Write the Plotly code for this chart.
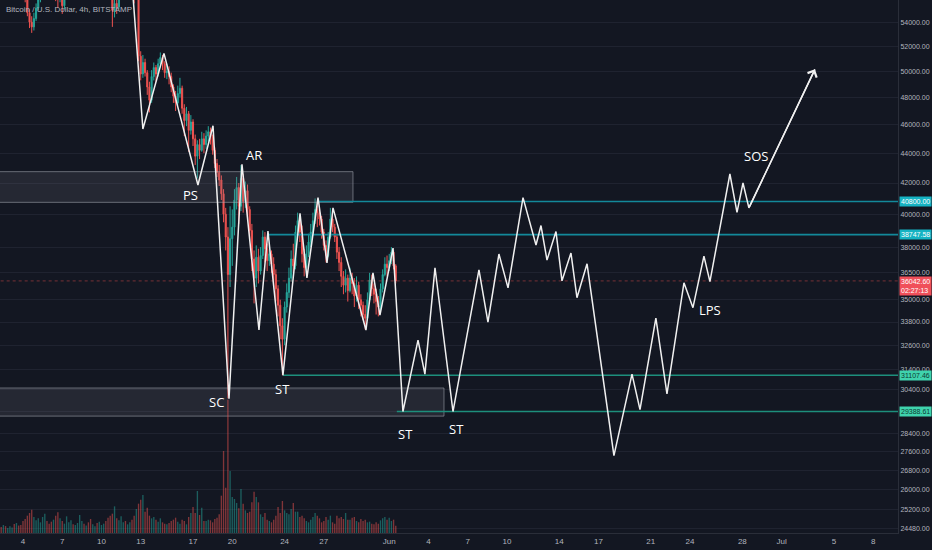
import numpy as np
import pandas as pd
import plotly.graph_objects as go

# ---------------- data ----------------
candle_start = "2021-05-02 08:00"
first_open = 57000

close = [
    56900, 57300, 56600, 57100,
    57600, 58200, 57800, 58600, 58300, 57900,
    57200, 56000, 54800, 54000, 53600, 54300,
    55200, 55900, 56800, 57300, 57500, 57400,
    57000, 56600, 57200, 56400, 56000, 56500,
    55400, 56100, 57000, 57300, 57700, 57400,
    58000, 58400, 58800, 59000, 58600, 58900,
    58300, 57500, 57900, 58400, 58200, 58200,
    58900, 59300, 58700, 57600, 56200, 55000,
    55600, 55300, 56200, 56600, 56900, 56600,
    57000, 57400, 56800, 56200, 56300, 51200,
    49800, 50700, 49900, 48800, 47800, 49600,
    50300, 49800, 50600, 51100, 50600, 49900,
    50000, 49600, 48800, 48100, 47600, 48300,
    48700, 47200, 46300, 46800, 45600, 46200,
    45000, 43800, 44600, 44200, 45000, 44600,
    45200, 45500, 45100, 44200, 43300, 42700,
    42200, 41300, 40000, 38600, 36400, 38500,
    39200, 40900, 41700, 40500, 42300, 40800,
    41500, 40300, 39000, 37300, 36200, 37400,
    36600, 37500, 38600, 37900, 37200, 37600,
    37000, 36400, 35600, 34700, 33600, 32900,
    34600, 35400, 36200, 37300, 36900, 38900,
    39600, 38900, 37600, 36800, 37600, 38300,
    38900, 39600, 40300, 40100, 39700, 38900,
    38100, 37500, 38600, 39700, 39200, 38600,
    37700, 37100, 36300, 35800, 36200, 35500,
    36200, 35900, 35200, 35800, 35000, 34700,
    34200, 34000, 35000, 36100, 35600, 35300,
    34900, 34600, 35600, 36400, 37000, 36800,
    37200, 37700, 36900, 36042.6,
]
high = [
    57500, 57900, 57500, 57600,
    57900, 58700, 58600, 58900, 58800, 58400,
    58100, 57400, 56200, 55100, 54500, 54800,
    55600, 56300, 57200, 57800, 57900, 57800,
    57700, 57300, 57700, 57400, 56600, 56900,
    56700, 56400, 57400, 57800, 58300, 57900,
    58300, 58800, 59300, 59500, 59200, 59300,
    59000, 58400, 58300, 58700, 58800, 58500,
    59200, 59700, 59500, 58800, 57800, 56400,
    56000, 56100, 56400, 57200, 57500, 57100,
    57300, 57900, 57600, 57000, 56900, 56500,
    51600, 51300, 51000, 50100, 49200, 50100,
    50700, 50500, 51000, 51500, 51300, 50800,
    50600, 50400, 49900, 49000, 48500, 48900,
    49500, 48900, 47500, 47300, 47000, 46700,
    46400, 45300, 44900, 45000, 45500, 45400,
    45600, 45900, 45800, 45300, 44400, 43600,
    43200, 42500, 41600, 40400, 39200, 40500,
    40300, 41600, 42400, 42000, 43200, 42600,
    42100, 41900, 40500, 39400, 37800, 38100,
    37900, 38000, 39000, 38900, 38200, 38100,
    37800, 37400, 36700, 35800, 35000, 34000,
    34900, 35900, 36800, 37800, 38200, 39300,
    40100, 39900, 39300, 37900, 38100, 38800,
    39400, 40100, 41000, 40700, 40400, 39900,
    39100, 38400, 38900, 40400, 40000, 39400,
    38800, 38000, 37400, 36600, 36700, 36400,
    36800, 36500, 36200, 36300, 36000, 35300,
    34900, 34700, 35400, 36500, 36400, 35900,
    35600, 35200, 35900, 36700, 37400, 37500,
    37600, 38000, 37800, 37000,
]
low = [
    56300, 56700, 56100, 56400,
    56800, 57400, 57300, 57600, 57900, 57300,
    56900, 55700, 54500, 53500, 53100, 53300,
    54100, 55000, 55700, 56600, 56900, 56800,
    56500, 56000, 56300, 55800, 55200, 55700,
    54700, 55100, 55900, 56700, 57100, 56900,
    57200, 57800, 58200, 58500, 58100, 58300,
    57900, 56400, 57100, 57700, 57800, 57700,
    58000, 58600, 58300, 57300, 55900, 53600,
    54400, 54700, 55100, 55900, 56300, 56100,
    56400, 56800, 56300, 55600, 55900, 50800,
    49300, 49500, 49600, 48200, 46900, 47600,
    49300, 49200, 49600, 50300, 50100, 49500,
    49400, 49000, 48400, 47600, 47000, 47400,
    48000, 46800, 45200, 45900, 44100, 45300,
    44500, 43200, 42300, 43600, 44100, 44000,
    44300, 44800, 44600, 43900, 43000, 42400,
    41800, 40900, 39500, 37800, 30000, 35700,
    36900, 38700, 40300, 39400, 40200, 40100,
    40400, 39600, 38400, 36600, 34800, 35700,
    35900, 36400, 37300, 37100, 36600, 36900,
    36500, 35700, 34900, 34100, 32900, 31100,
    32600, 34300, 35100, 36000, 36500, 36700,
    38700, 38300, 37100, 36300, 36500, 37400,
    38000, 38700, 39400, 39200, 39300, 38500,
    37800, 37100, 37400, 38500, 38900, 38300,
    37300, 36600, 35700, 35300, 35400, 34900,
    35400, 35300, 34600, 34900, 34500, 34100,
    33900, 33400, 33900, 34900, 35200, 34800,
    34200, 34100, 34400, 35400, 36300, 36300,
    36600, 37000, 36700, 35900,
]
volume = [
    450, 600, 520, 380,
    500, 420, 680, 750, 560, 600,
    900, 1050, 1300, 1500, 1750, 1200,
    950, 1100, 800, 1200, 1450, 900,
    700, 850, 1000, 1300, 1550, 1100,
    900, 700, 1250, 800, 950, 650,
    600, 750, 1350, 900, 700, 560,
    800, 1050, 650, 500, 750, 850,
    600, 700, 900, 1150, 1300, 1450,
    2000, 1100, 950, 1250, 800, 900,
    650, 800, 1000, 1300, 1800, 2200,
    2500, 2850, 1600, 1900, 1300, 1100,
    1200, 1000, 850, 1100, 800, 700,
    650, 750, 900, 1000, 1150, 850,
    700, 1000, 900, 650, 1200, 1500,
    1950, 1500, 3150, 1350, 1900, 900,
    900, 1000, 950, 800, 1050, 1150,
    1400, 2800, 6150, 3400, 10000, 4650,
    2700, 2550, 2250, 1850, 3300, 2200,
    1700, 1500, 1600, 2300, 3100, 2700,
    2300, 1400, 1200, 1500, 1000, 900,
    800, 1000, 1300, 1950, 1500, 2400,
    1700, 1500, 1400, 1800, 2250, 1600,
    1600, 1200, 1300, 1100, 900, 800,
    1000, 1200, 1500, 1300, 1100, 800,
    900, 1200, 1000, 1300, 800, 700,
    1300, 1100, 1200, 1050, 1500, 1000,
    1000, 1150, 1200, 900, 800, 1050,
    900, 1000, 800, 850, 700, 650,
    800, 700, 950, 1100, 1200, 1000,
    1150, 900, 1000, 550,
]

# hand-drawn Wyckoff projection path
path_time = [
    "2021-05-12 08:20", "2021-05-13 04:00", "2021-05-14 18:40", "2021-05-17 09:00",
    "2021-05-18 12:40", "2021-05-19 18:00", "2021-05-20 17:50", "2021-05-22 01:00",
    "2021-05-22 17:30", "2021-05-23 21:00", "2021-05-25 04:20", "2021-05-25 17:00",
    "2021-05-26 13:20", "2021-05-27 05:50", "2021-05-27 16:50", "2021-05-30 05:20",
    "2021-05-30 18:10", "2021-05-31 07:00", "2021-06-01 07:00", "2021-06-02 01:10",
    "2021-06-03 04:50", "2021-06-03 17:30", "2021-06-04 12:00", "2021-06-05 21:00",
    "2021-06-07 20:40", "2021-06-08 13:10", "2021-06-09 09:20", "2021-06-10 02:00",
    "2021-06-11 05:30", "2021-06-12 05:20", "2021-06-12 14:30", "2021-06-13 01:30",
    "2021-06-13 18:00", "2021-06-14 05:00", "2021-06-14 21:30", "2021-06-15 08:30",
    "2021-06-16 03:00", "2021-06-18 04:20", "2021-06-19 13:30", "2021-06-20 04:10",
    "2021-06-21 09:20", "2021-06-22 05:40", "2021-06-23 12:50", "2021-06-24 05:20",
    "2021-06-25 01:30", "2021-06-25 12:30", "2021-06-27 01:10", "2021-06-27 14:10",
    "2021-06-28 01:10", "2021-06-28 12:00", "2021-07-03 13:10",
]
path_price = [
    57250, 45700, 51430, 41870,
    45930, 29980, 43250, 33380,
    38960, 31107, 40060, 36215,
    41050, 37075, 40400, 33380,
    36500, 34170, 37940, 29390,
    32855, 31160, 36790, 29390,
    36670, 33800, 37590, 35650,
    41050, 38120, 39300, 37235,
    38930, 36050, 37650, 35110,
    37020, 27430, 31160, 29480,
    34010, 30210, 35935, 34565,
    37470, 36000, 42595, 40120,
    42000, 40400, 50160,
]

label_text = ["PS", "AR", "SC", "ST", "ST", "ST", "LPS", "SOS"]
label_time = ["2021-05-16 18:30", "2021-05-21 16:00", "2021-05-18 18:10", "2021-05-23 21:00",
              "2021-06-02 05:00", "2021-06-06 04:20", "2021-06-25 12:30", "2021-06-29 01:00"]
label_price = [41220, 43860, 29835, 30450, 28355, 28580, 34460, 43800]

level_price = [40800.00, 38747.58, 31107.46, 29388.61]
level_start = ["2021-05-26 13:15", "2021-05-22 17:30", "2021-05-23 21:00", "2021-06-01 14:00"]
level_color = ["#13899a", "#13899a", "#1d8f7c", "#1d8f7c"]
level_label_bg = ["#16b3c3", "#16b3c3", "#3fd3ad", "#3fd3ad"]
level_label_fg = ["#ffffff", "#ffffff", "#0d3b33", "#0d3b33"]
last_price = 36042.60
countdown = "02:27:13"

zone_time = [["2021-04-30", "2021-05-29 05:30"], ["2021-04-30", "2021-06-05 04:30"]]
zone_price = [[40750, 42750], [29180, 30490]]

ytick_vals = [24480, 25200, 26000, 26800, 27600, 28400, 29400, 30400, 31400, 32600, 33800,
              35000, 36500, 38000, 40000, 42000, 44000, 46000, 48000, 50000, 52000, 54000]
xtick_vals = ["2021-05-04", "2021-05-07", "2021-05-10", "2021-05-13", "2021-05-17", "2021-05-20",
              "2021-05-24", "2021-05-27", "2021-06-01", "2021-06-04", "2021-06-07", "2021-06-10",
              "2021-06-14", "2021-06-17", "2021-06-21", "2021-06-24", "2021-06-28", "2021-07-01",
              "2021-07-05", "2021-07-08"]
xtick_text = ["4", "7", "10", "13", "17", "20", "24", "27", "Jun", "4", "7", "10", "14", "17",
              "21", "24", "28", "Jul", "5", "8"]
title_text = "Bitcoin / U.S. Dollar, 4h, BITSTAMP"

# ---------------- figure ----------------
AXFONT = "Liberation Sans"
times = pd.date_range(candle_start, periods=len(close), freq="4h")
opens = [first_open] + close[:-1]
UP, DOWN = "#26a69a", "#ef5350"
vol_colors = ["rgba(38,166,154,0.5)" if c >= o else "rgba(239,83,80,0.5)" for o, c in zip(opens, close)]

fig = go.Figure()
fig.add_trace(go.Bar(x=times, y=volume, yaxis="y2", marker_color=vol_colors, marker_line_width=0,
                     width=4 * 3600 * 1000 * 0.62, showlegend=False, hoverinfo="skip"))

for zt, zp in zip(zone_time, zone_price):
    fig.add_trace(go.Scatter(x=[zt[0], zt[1], zt[1], zt[0], zt[0]],
                             y=[zp[0], zp[0], zp[1], zp[1], zp[0]],
                             mode="lines", fill="toself", fillcolor="rgba(120,123,134,0.18)",
                             line=dict(color="rgba(170,173,182,0.55)", width=1),
                             showlegend=False, hoverinfo="skip"))

fig.add_trace(go.Candlestick(x=times, open=opens, high=high, low=low, close=close,
                             increasing=dict(line=dict(color=UP, width=1), fillcolor=UP),
                             decreasing=dict(line=dict(color=DOWN, width=1), fillcolor=DOWN),
                             whiskerwidth=0, showlegend=False))

x_end = "2021-07-12"
fig.add_trace(go.Scatter(x=["2021-04-30", x_end], y=[last_price, last_price], mode="lines",
                         line=dict(color="rgba(239,83,80,0.45)", width=1, dash="dot"),
                         showlegend=False, hoverinfo="skip"))
for p, s, c in zip(level_price, level_start, level_color):
    fig.add_trace(go.Scatter(x=[s, x_end], y=[p, p], mode="lines",
                             line=dict(color=c, width=1.6), showlegend=False, hoverinfo="skip"))

fig.add_trace(go.Scatter(x=path_time, y=path_price, mode="lines",
                         line=dict(color="#f0f0f0", width=1.5), showlegend=False, hoverinfo="skip"))

ann = []
for t, p, s in zip(label_time, label_price, label_text):
    ann.append(dict(x=t, y=np.log10(p), xref="x", yref="y", text=s, showarrow=False,
                    font=dict(family="Open Sans", size=13, color="#ffffff")))

ann.append(dict(x=path_time[-1], y=np.log10(path_price[-1]), ax=path_time[-2], ay=np.log10(path_price[-2]),
                xref="x", yref="y", axref="x", ayref="y", text="", showarrow=True,
                arrowhead=4, arrowsize=1.3, arrowwidth=1.5, arrowcolor="#f0f0f0"))

ann.append(dict(x=0.004, y=1, xref="paper", yref="paper", xanchor="left", yanchor="top", yshift=-3,
                text=title_text, showarrow=False,
                font=dict(family="Liberation Sans", size=8, color="#b2b5be")))

for p, bg, fg in zip(level_price, level_label_bg, level_label_fg):
    ann.append(dict(x=1, y=np.log10(p), xref="paper", yref="y", xanchor="left", yanchor="middle",
                    xshift=1, text=f"{p:.2f}", showarrow=False, bgcolor=bg, borderpad=1,
                    font=dict(family=AXFONT, size=7, color=fg)))
ann.append(dict(x=1, y=np.log10(last_price), xref="paper", yref="y", xanchor="left", yanchor="top",
                xshift=1, yshift=5, text=f"{last_price:.2f}<br>{countdown}", showarrow=False,
                bgcolor="#f0505a", borderpad=1, align="left",
                font=dict(family=AXFONT, size=7, color="#ffffff")))

fig.update_layout(
    width=932, height=550,
    margin=dict(l=0, r=34, t=0, b=17),
    paper_bgcolor="#131722", plot_bgcolor="#131722",
    showlegend=False,
    annotations=ann,
    xaxis=dict(type="date", range=["2021-05-02 05:48", "2021-07-09 21:36"],
               rangeslider=dict(visible=False), showgrid=False, zeroline=False,
               tickvals=xtick_vals, ticktext=xtick_text, ticks="",
               tickfont=dict(family=AXFONT, size=8, color="#b2b5be"),
               showline=True, linecolor="#2a2e39", linewidth=1),
    yaxis=dict(type="log", range=[np.log10(24310), np.log10(55900)], side="right",
               tickvals=ytick_vals, ticktext=[f"{v:.2f}" for v in ytick_vals], ticks="",
               tickfont=dict(family=AXFONT, size=7, color="#b2b5be"),
               gridcolor="#1f2330", gridwidth=1, zeroline=False, automargin=False,
               showline=True, linecolor="#2a2e39", linewidth=1),
    yaxis2=dict(overlaying="y", range=[0, 39975], visible=False, showgrid=False),
)

fig.write_html("out.html", config={"displayModeBar": False},
               post_script="document.body.style.margin='0';document.body.style.overflow='hidden';")
